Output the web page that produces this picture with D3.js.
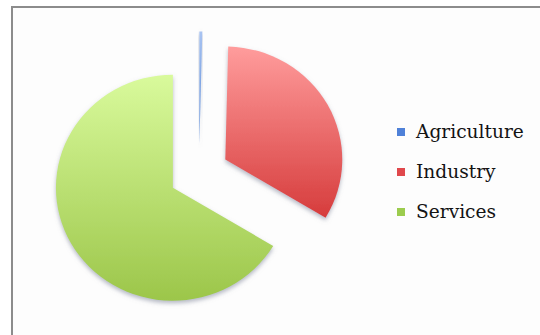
<!DOCTYPE html>
<html>
<head>
<meta charset="utf-8">
<script src="https://cdn.jsdelivr.net/npm/d3@7"></script>
<style>
  html, body { margin: 0; padding: 0; background: #ffffff; }
  svg { display: block; }
</style>
</head>
<body>
<svg id="chart" width="540" height="335"></svg>
<script>
// Sector shares of the economy (%)
const categories = ["Agriculture", "Industry", "Services"];
const shares = [0.4, 33.2, 66.4];

// Per-slice gradient stops (top, bottom)
const gradTop = ["#a9c4f2", "#ff9c9c", "#d9fa9c"];
const gradBottom = ["#4f82d4", "#d63c3c", "#9cc64a"];
const keyColors = ["#4f81d8", "#e0484c", "#9ccc4e"];

const svg = d3.select("#chart");

// chart area frame
svg.append("rect")
  .attr("x", 12).attr("y", 7)
  .attr("width", 560).attr("height", 360)
  .attr("fill", "#fdfdfd")
  .attr("stroke", "#8c8c8c")
  .attr("stroke-width", 2);

const defs = svg.append("defs");
categories.forEach((c, i) => {
  const g = defs.append("linearGradient")
    .attr("id", "grad" + i)
    .attr("x1", 0).attr("y1", 0).attr("x2", 0).attr("y2", 1);
  g.append("stop").attr("offset", "0%").attr("stop-color", gradTop[i]);
  g.append("stop").attr("offset", "100%").attr("stop-color", gradBottom[i]);
});
const shadow = defs.append("filter").attr("id", "shadow")
  .attr("x", "-20%").attr("y", "-20%").attr("width", "140%").attr("height", "140%");
shadow.append("feDropShadow")
  .attr("dx", 0).attr("dy", 2.5).attr("stdDeviation", 2)
  .attr("flood-color", "#7a7f94").attr("flood-opacity", 0.55);

const cx = 199, cy = 173.5;
const radius = 113;
const explode = 29;

const pie = d3.pie().sort(null).value(d => d);
const arcs = pie(shares);
const arc = d3.arc().innerRadius(0).outerRadius(radius);

const pieG = svg.append("g")
  .attr("transform", `translate(${cx},${cy}) scale(1.035,1)`);

pieG.selectAll("path.slice")
  .data(arcs)
  .join("path")
  .attr("class", "slice")
  .attr("d", arc)
  .attr("fill", (d, i) => `url(#grad${i})`)
  .attr("filter", "url(#shadow)")
  .attr("transform", d => {
    const mid = (d.startAngle + d.endAngle) / 2;
    return `translate(${Math.sin(mid) * explode},${-Math.cos(mid) * explode})`;
  });

// legend
const legendY = d3.scalePoint().domain(categories).range([138, 218]);
const legend = svg.append("g");
const items = legend.selectAll("g")
  .data(categories)
  .join("g")
  .attr("transform", d => `translate(397,${legendY(d)})`);
items.append("rect")
  .attr("x", 0).attr("y", -10)
  .attr("width", 8).attr("height", 8)
  .attr("fill", (d, i) => keyColors[i]);
items.append("text")
  .attr("x", 19).attr("y", 0)
  .attr("font-family", "'DejaVu Serif', serif")
  .attr("font-size", 18.6)
  .attr("fill", "#141414")
  .text(d => d);
</script>
</body>
</html>
